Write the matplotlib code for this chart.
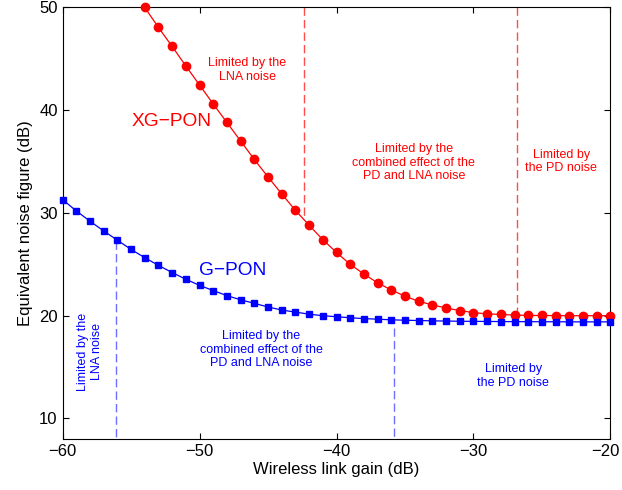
import numpy as np
import matplotlib.pyplot as plt
import matplotlib.transforms as mtransforms

plt.rcParams["font.family"] = ["Liberation Sans", "DejaVu Sans"]
plt.rcParams["font.size"] = 12

# G-PON curve, -60 .. -20 dB in 1 dB steps
gain_g = np.arange(-60, -19)
nf_g = [31.3, 30.2, 29.2, 28.25, 27.35, 26.45, 25.65, 24.9, 24.2, 23.55,
        22.95, 22.45, 21.95, 21.55, 21.2, 20.85, 20.55, 20.35, 20.15, 20.0,
        19.9, 19.8, 19.72, 19.66, 19.6, 19.56, 19.53, 19.5, 19.48, 19.46,
        19.45, 19.44, 19.43, 19.42, 19.42, 19.41, 19.41, 19.4, 19.4, 19.4,
        19.4]

# XG-PON curve, -54 .. -20 dB
gain_xg = np.arange(-54, -19)
nf_xg = [50.0, 48.05, 46.2, 44.3, 42.45, 40.6, 38.8, 37.0, 35.2, 33.5,
         31.85, 30.25, 28.8, 27.4, 26.15, 25.0, 24.05, 23.2, 22.5, 21.9,
         21.4, 21.05, 20.75, 20.5, 20.3, 20.18, 20.12, 20.06, 20.03, 20.02,
         20.01, 20.0, 20.0, 20.0, 20.0]

# region boundaries (x, y_from, y_to)
red_bounds = [(-42.37, 50, 29.5), (-26.8, 50, 20.25)]
blue_bounds = [(-56.1, 27.3, 8), (-35.8, 18.8, 8)]

fig = plt.figure(figsize=(6.22, 4.90), dpi=100)
ax = fig.add_axes([0.1005, 0.104, 0.881, 0.881])

ax.plot(gain_xg, nf_xg, color="red", lw=0.9, marker="o", ms=6,
        mec="red", mfc="red", clip_on=False, zorder=3)
ax.plot(gain_g, nf_g, color="blue", lw=0.9, marker="s", ms=4.5,
        mec="blue", mfc="blue", clip_on=False, zorder=3)

for x, y0, y1 in red_bounds:
    ax.plot([x, x], [y0, y1], color="#ff4d4d", lw=1, dashes=(6, 3))
for x, y0, y1 in blue_bounds:
    ax.plot([x, x], [y0, y1], color="#6f6fff", lw=1, dashes=(6, 3))

fs = 9
ax.text(-46.5, 43.9, "Limited by the\nLNA noise", color="red", fontsize=fs,
        ha="center", va="center")
ax.text(-52.05, 38.9, "XG\u2212PON", color="red", fontsize=13.8,
        ha="center", va="center")
ax.text(-34.35, 34.9, "Limited by the\ncombined effect of the\nPD and LNA noise",
        color="red", fontsize=fs, ha="center", va="center")
ax.text(-23.6, 35.0, "Limited by\nthe PD noise", color="red", fontsize=fs,
        ha="center", va="center")
ax.text(-47.57, 24.4, "G\u2212PON", color="blue", fontsize=13.8,
        ha="center", va="center")
ax.text(-58.0, 16.5, "Limited by the\nLNA noise", color="blue", fontsize=fs,
        ha="center", va="center", rotation=90)
ax.text(-45.5, 16.7, "Limited by the\ncombined effect of the\nPD and LNA noise",
        color="blue", fontsize=fs, ha="center", va="center")
ax.text(-27.1, 14.1, "Limited by\nthe PD noise", color="blue", fontsize=fs,
        ha="center", va="center")

ax.set_xlim(-60, -20)
ax.set_ylim(8, 50)
ax.set_xticks([-60, -50, -40, -30, -20])
ax.set_yticks([10, 20, 30, 40, 50])
ax.tick_params(direction="in", top=True, right=True, length=4, labelsize=12)
ax.set_xlabel("Wireless link gain (dB)", fontsize=12, labelpad=2)
ax.set_ylabel("Equivalent noise figure (dB)", fontsize=12, labelpad=4)

# nudge the last x tick label so it stays inside the image
last = ax.get_xticklabels()[-1]
shift = mtransforms.ScaledTranslation(-5 / 100, 0, fig.dpi_scale_trans)
last.set_transform(last.get_transform() + shift)

fig.savefig("out.png", dpi=100)
